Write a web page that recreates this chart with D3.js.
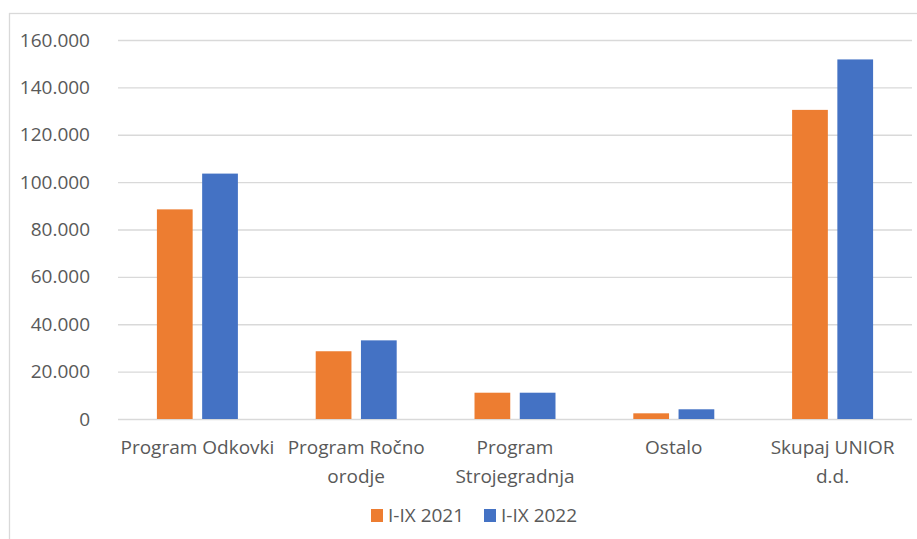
<!DOCTYPE html>
<html>
<head>
<meta charset="utf-8">
<script src="https://cdn.jsdelivr.net/npm/d3@7"></script>
<style>
  body { margin: 0; background: #fff; }
  text { font-family: "Open Sans", sans-serif; fill: #595959; }
</style>
</head>
<body>
<div id="chart"></div>
<script>
var categories = ["Program Odkovki", "Program Ročno orodje", "Program Strojegradnja", "Ostalo", "Skupaj UNIOR d.d."];
var labelLines = [["Program Odkovki"], ["Program Ročno", "orodje"], ["Program", "Strojegradnja"], ["Ostalo"], ["Skupaj UNIOR", "d.d."]];
var seriesNames = ["I-IX 2021", "I-IX 2022"];
var values2021 = [88500, 28600, 11100, 2400, 130500];
var values2022 = [103600, 33200, 11100, 4100, 151800];
var yTicks = [0, 20000, 40000, 60000, 80000, 100000, 120000, 140000, 160000];
var colors = ["#ED7D31", "#4472C4"];

var width = 917,
    height = 539;

var svg = d3.select("#chart")
    .append("svg")
    .attr("width", width)
    .attr("height", height);

// chart area border (only left and top edges are visible)
svg.append("rect")
    .attr("x", 9.5)
    .attr("y", 13.5)
    .attr("width", width + 20)
    .attr("height", height + 20)
    .attr("fill", "none")
    .attr("stroke", "#d9d9d9")
    .attr("stroke-width", 1.3);

var plotLeft = 118, plotRight = 912, plotTop = 40, plotBottom = 419;

var y = d3.scaleLinear().domain([0, 160000]).range([plotBottom, plotTop]);

var x0 = d3.scaleBand()
    .domain(categories)
    .range([plotLeft, plotRight])
    .paddingInner(0.49)
    .paddingOuter(0.245);

var x1 = d3.scaleBand()
    .domain(seriesNames)
    .range([0, x0.bandwidth()])
    .paddingInner(0.21);

var locale = d3.formatLocale({ decimal: ",", thousands: ".", grouping: [3], currency: ["", ""] });
var fmt = locale.format(",");

var yAxis = svg.append("g")
    .attr("transform", "translate(" + plotLeft + ",0)")
    .call(d3.axisLeft(y)
        .tickValues(yTicks)
        .tickFormat(fmt)
        .tickSizeInner(-(plotRight - plotLeft))
        .tickSizeOuter(0)
        .tickPadding(28));
yAxis.select(".domain").remove();
yAxis.selectAll("line").attr("stroke", "#d9d9d9").attr("stroke-width", 1.3);
yAxis.selectAll("text")
    .attr("fill", "#595959")
    .style("font-size", "19px")
    .style("font-family", "'Open Sans', sans-serif");

var rows = categories.map(function (c, i) {
    return { cat: c, vals: [values2021[i], values2022[i]] };
});

var groups = svg.selectAll(".grp")
    .data(rows)
    .enter().append("g")
    .attr("class", "grp")
    .attr("transform", function (d) { return "translate(" + x0(d.cat) + ",0)"; });

groups.selectAll("rect")
    .data(function (d) {
        return d.vals.map(function (v, j) { return { name: seriesNames[j], v: v, j: j }; });
    })
    .enter().append("rect")
    .attr("x", function (d) { return x1(d.name); })
    .attr("y", function (d) { return y(d.v); })
    .attr("width", x1.bandwidth())
    .attr("height", function (d) { return y(0) - y(d.v); })
    .attr("fill", function (d) { return colors[d.j]; });

// category labels
var xAxis = svg.append("g");
categories.forEach(function (c, i) {
    var t = xAxis.append("text")
        .attr("x", x0(c) + x0.bandwidth() / 2)
        .attr("y", 454)
        .attr("text-anchor", "middle")
        .style("font-size", "19px");
    labelLines[i].forEach(function (line, k) {
        t.append("tspan")
            .attr("x", x0(c) + x0.bandwidth() / 2)
            .attr("dy", k === 0 ? 0 : 29)
            .text(line);
    });
});

// legend
var legendX = [371, 484];
var legend = svg.selectAll(".legend")
    .data(seriesNames)
    .enter().append("g")
    .attr("class", "legend")
    .attr("transform", function (d, i) { return "translate(" + legendX[i] + ",509)"; });

legend.append("rect")
    .attr("width", 12)
    .attr("height", 13)
    .attr("fill", function (d, i) { return colors[i]; });

legend.append("text")
    .attr("x", 17)
    .attr("y", 13)
    .style("font-size", "19px")
    .text(function (d) { return d; });
</script>
</body>
</html>
